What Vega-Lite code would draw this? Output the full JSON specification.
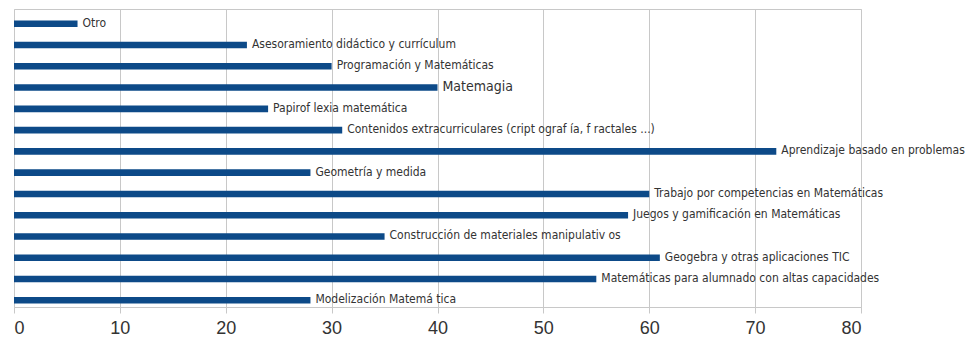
{
  "$schema": "https://vega.github.io/schema/vega-lite/v6.json",
  "autosize": {"type": "none"},
  "width": 847,
  "height": 298,
  "padding": {"left": 14, "top": 9, "right": 107, "bottom": 36},
  "background": "white",
  "config": {"view": {"stroke": "#c8c8c8", "strokeWidth": 1}},
  "data": {"values": [
    {"cat": "Otro", "value": 6},
    {"cat": "Asesoramiento  didáctico  y currículum", "value": 22},
    {"cat": "Programación  y Matemáticas", "value": 30},
    {"cat": "Matemagia", "value": 40},
    {"cat": "Papirof  lexia  matemática", "value": 24},
    {"cat": "Contenidos  extracurriculares  (cript  ograf  ía, f ractales ...)", "value": 31},
    {"cat": "Aprendizaje  basado  en problemas", "value": 72},
    {"cat": "Geometría  y medida", "value": 28},
    {"cat": "Trabajo  por  competencias  en Matemáticas", "value": 60},
    {"cat": "Juegos  y gamificación  en Matemáticas", "value": 58},
    {"cat": "Construcción  de  materiales  manipulativ  os", "value": 35},
    {"cat": "Geogebra  y otras  aplicaciones  TIC", "value": 61},
    {"cat": "Matemáticas  para  alumnado  con altas  capacidades", "value": 55},
    {"cat": "Modelización  Matemá  tica", "value": 28}
  ]},
  "encoding": {
    "y": {"field": "cat", "type": "nominal", "sort": null, "axis": null,
          "scale": {"paddingInner": 0.69, "paddingOuter": 0.35, "align": 0.77}},
    "x": {"field": "value", "type": "quantitative",
          "scale": {"domain": [0, 80], "nice": false},
          "axis": {"title": null, "values": [0,10,20,30,40,50,60,70,80],
                   "grid": true, "gridColor": "#c8c8c8", "domainColor": "#c8c8c8",
                   "tickColor": "#c8c8c8", "tickSize": 6,
                   "labelFontSize": 18, "labelColor": "#333", "labelFont": "Liberation Sans",
                   "labelPadding": 6}}
  },
  "layer": [
    {"mark": {"type": "bar", "color": "#0d4a88"}},
    {"mark": {"type": "text", "align": "left", "baseline": "middle", "dx": 5, "dy": -1,
              "font": "DejaVu Sans Condensed, Liberation Sans Narrow, Liberation Sans, sans-serif", "color": "#333"},
     "encoding": {
       "text": {"field": "cat"},
       "size": {"condition": {"test": "datum.cat === 'Matemagia'", "value": 14}, "value": 12}
     }}
  ]
}
